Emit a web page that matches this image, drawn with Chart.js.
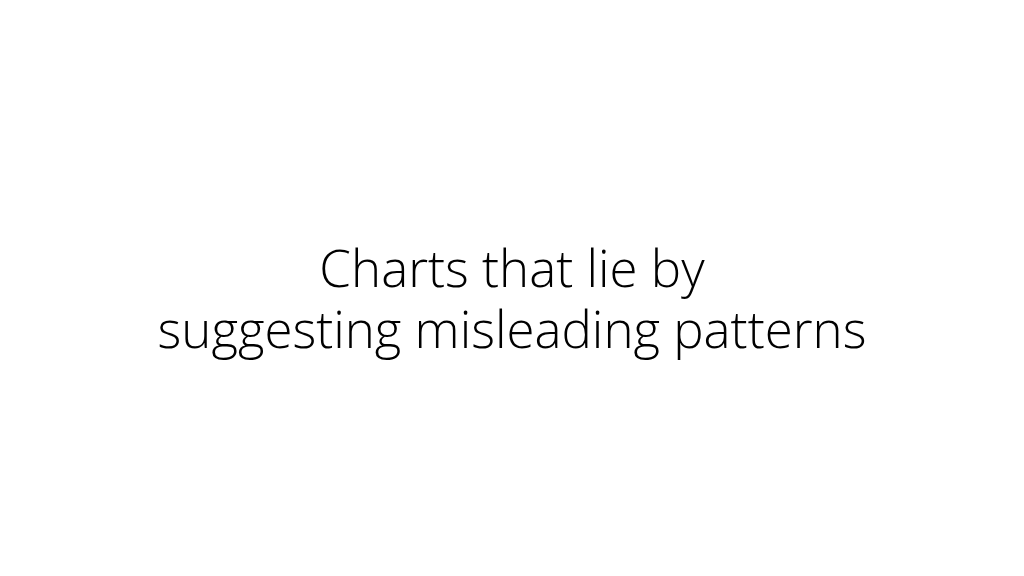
<!DOCTYPE html>
<html>
<head>
<meta charset="utf-8">
<script src="https://cdn.jsdelivr.net/npm/chart.js@4/dist/chart.umd.min.js"></script>
<style>
html,body{margin:0;padding:0;background:#fff;}
#wrap{width:1024px;height:576px;}
</style>
</head>
<body>
<div id="wrap"><canvas id="c" width="1024" height="576"></canvas></div>
<script>
const titleLines = ["Charts that lie by", "suggesting misleading patterns"];
const categories = [];
const seriesValues = [];

new Chart(document.getElementById('c'), {
  type: 'bar',
  data: { labels: categories, datasets: [{ data: seriesValues }] },
  options: {
    responsive: false,
    animation: false,
    layout: { padding: { top: 242 } },
    scales: { x: { display: false }, y: { display: false } },
    plugins: {
      legend: { display: false },
      tooltip: { enabled: false },
      title: {
        display: true,
        text: titleLines,
        color: '#000000',
        padding: 0,
        font: { family: '"Open Sans", sans-serif', size: 51, weight: '300', lineHeight: 1.19 }
      }
    }
  }
});
</script>
</body>
</html>
